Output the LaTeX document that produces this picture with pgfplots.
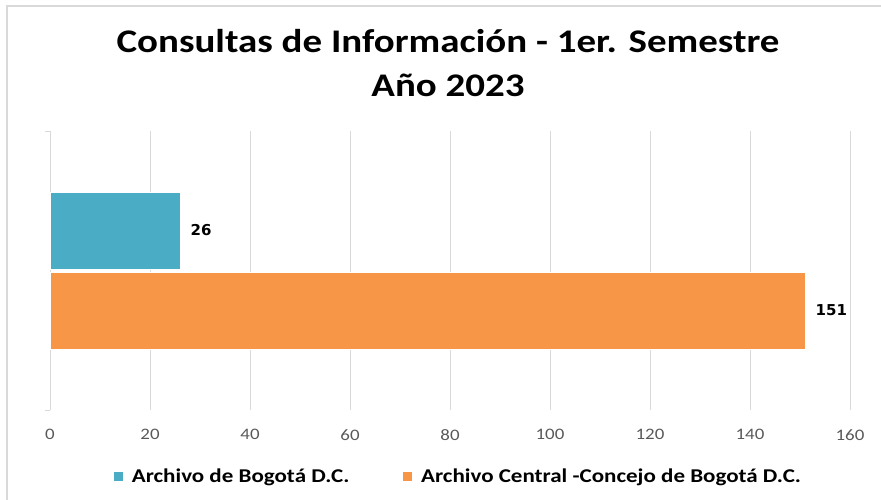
\documentclass[border=0pt]{standalone}
\usepackage{pgfplots}
\pgfplotsset{compat=1.18}
\usepackage{fontspec}
\setmainfont{Carlito}[FakeStretch=1.18]
\newfontfamily\dejavu{DejaVu Sans}
\definecolor{cblue}{HTML}{4BACC6}
\definecolor{corange}{HTML}{F79646}
\definecolor{gridgray}{HTML}{D9D9D9}
\definecolor{ticktext}{HTML}{595959}
\begin{document}
\begin{tikzpicture}[x=1pt,y=1pt]
\path[use as bounding box] (0,0) rectangle (881,500);
\draw[gridgray,line width=2pt] (7,0) -- (7,494) -- (881,494);
\node[font=\fontsize{33}{38}\selectfont\bfseries, anchor=base] at (448,447) {Consultas de Información - 1er. Semestre};
\node[font=\fontsize{33}{38}\selectfont\bfseries, anchor=base] at (448,403) {Año 2023};
\begin{axis}[
  at={(50pt,90pt)}, anchor=south west,
  scale only axis, width=800pt, height=279pt,
  xbar, bar width=77pt,
  xmin=0, xmax=160, ymin=-0.5, ymax=0.5,
  xtick={0,20,...,160},
  ytick={-0.5,0.5}, yticklabels={,},
  major tick length=5pt,
  xtick style={draw=none},
  ytick style={gridgray, line width=0.8pt},
  tick align=outside,
  xmajorgrids, grid style={gridgray, line width=0.9pt},
  axis x line*=bottom, axis y line*=left,
  x axis line style={draw=none},
  y axis line style={gridgray, line width=0.9pt},
  ticklabel style={font=\fontsize{16}{18}\selectfont, text=ticktext},
  /pgf/number format/assume math mode=true,
  xticklabel style={yshift=-11pt},
  nodes near coords,
  nodes near coords style={font=\dejavu\fontsize{15}{17}\selectfont\bfseries, text=black, xshift=7pt},
  legend style={at={(0.0788,-0.2366)}, anchor=west, draw=none, legend columns=2,
    inner sep=0pt, outer sep=0pt,
    font=\fontsize{19.5}{23}\selectfont\bfseries,
    /tikz/every odd column/.style={column sep=6pt},
    /tikz/every even column/.style={column sep=51pt},
    cells={anchor=west, inner xsep=0pt}},
  legend image code/.code={\fill[#1] (0pt,-5pt) rectangle (10pt,5pt);},
]
\addplot[fill=cblue, draw=white, line width=0.8pt, bar shift=40pt] coordinates {(26,0)};
\addlegendentry{Archivo de Bogotá D.C.}
\addplot[fill=corange, draw=white, line width=0.8pt, bar shift=-40pt] coordinates {(151,0)};
\addlegendentry{Archivo Central -Concejo de Bogotá D.C.}
\end{axis}
\end{tikzpicture}
\end{document}
